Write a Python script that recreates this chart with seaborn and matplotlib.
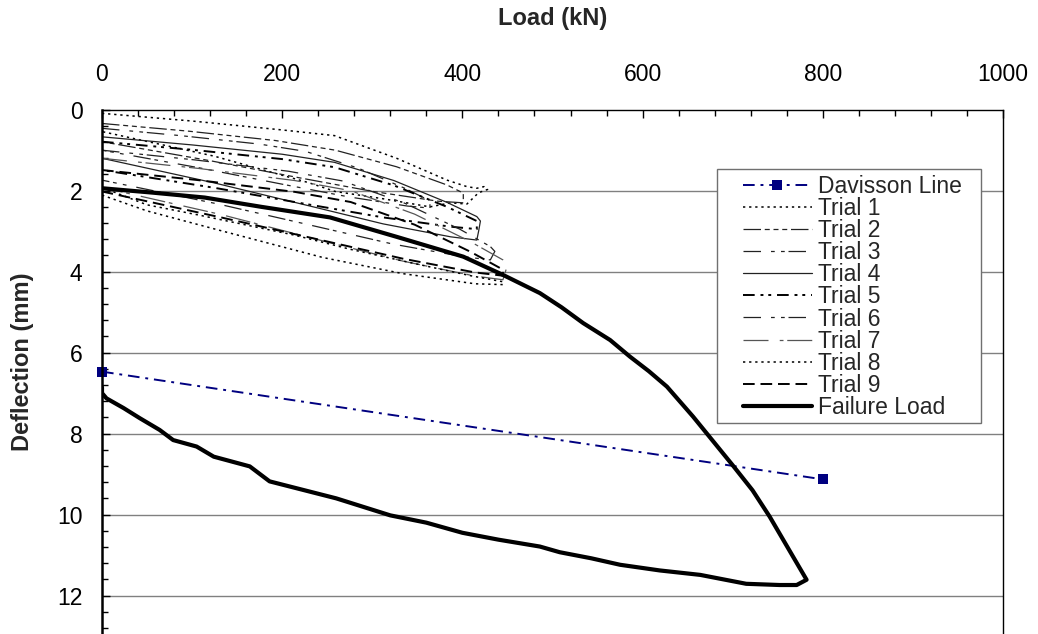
import numpy as np
import pandas as pd
import matplotlib
matplotlib.use("Agg")
import matplotlib.pyplot as plt
from matplotlib.ticker import MultipleLocator
from matplotlib.patches import Rectangle
import seaborn as sns

# ---------------- data (Load kN, Deflection mm) ----------------
davisson_load = [0, 800]
davisson_defl = [6.47, 9.13]

trial1_load = [0, 100, 200, 258, 327, 383, 405, 416, 424, 428, 418, 405, 387, 364, 312, 259, 229, 125, 0]
trial1_defl = [0.09, 0.28, 0.50, 0.64, 1.20, 1.74, 1.90, 1.94, 1.90, 1.97, 2.05, 2.33, 2.30, 2.40, 2.20, 2.02, 1.80, 1.15, 0.54]

trial2_load = [0, 96, 192, 259, 327, 383, 401, 401, 373, 301, 221, 120, 0]
trial2_defl = [0.34, 0.53, 0.76, 1.00, 1.41, 1.86, 2.06, 2.30, 2.26, 2.02, 1.69, 1.26, 0.79]

trial3_load = [0, 87, 175, 226, 284, 335, 364, 364, 339, 273, 200, 109, 0]
trial3_defl = [0.46, 0.64, 0.85, 1.03, 1.44, 1.93, 2.25, 2.43, 2.38, 2.15, 1.84, 1.44, 1.00]

trial4_load = [0, 100, 200, 258, 324, 383, 416, 420, 418, 416, 387, 312, 229, 125, 0]
trial4_defl = [0.67, 0.87, 1.10, 1.30, 1.75, 2.29, 2.64, 2.75, 3.00, 3.22, 3.14, 2.82, 2.37, 1.81, 1.20]

trial5_load = [0, 100, 200, 258, 324, 383, 416, 416, 387, 312, 229, 125, 0]
trial5_defl = [0.79, 0.99, 1.22, 1.42, 1.87, 2.40, 2.75, 2.95, 2.89, 2.66, 2.34, 1.93, 1.49]

trial6_load = [0, 103, 207, 267, 336, 397, 431, 436, 431, 401, 323, 237, 129, 0]
trial6_defl = [1.00, 1.24, 1.52, 1.76, 2.31, 2.95, 3.38, 3.50, 3.71, 3.63, 3.32, 2.88, 2.33, 1.74]

trial7_load = [0, 107, 214, 276, 347, 409, 445, 450, 447, 445, 414, 334, 245, 134, 0]
trial7_defl = [1.20, 1.45, 1.75, 2.00, 2.58, 3.26, 3.71, 3.85, 4.05, 4.20, 4.11, 3.74, 3.24, 2.60, 1.92]

trial8_load = [0, 50, 107, 214, 276, 347, 409, 445, 445, 414, 334, 245, 134, 50, 0]
trial8_defl = [1.92, 2.35, 2.60, 3.10, 3.45, 3.80, 4.10, 4.25, 4.32, 4.30, 4.05, 3.65, 3.00, 2.50, 2.11]

trial9_load = [0, 107, 214, 276, 347, 409, 445, 445, 414, 334, 245, 134, 0]
trial9_defl = [1.49, 1.74, 2.03, 2.28, 2.84, 3.51, 3.95, 4.10, 4.02, 3.68, 3.23, 2.67, 2.02]

failure_load = [0, 57, 114, 177, 253, 327, 401, 445, 486, 510, 534, 564, 586, 607, 627, 656, 671, 701, 722,
                741, 767, 782,
                771, 752, 715, 664, 619, 575, 543, 508, 486, 440, 400, 360, 320, 260, 223, 186, 164, 124,
                105, 79, 64, 42, 24, 5, 0, 0]
failure_defl = [1.94, 2.05, 2.17, 2.40, 2.66, 3.14, 3.63, 4.08, 4.53, 4.88, 5.27, 5.69, 6.10, 6.46, 6.84, 7.58,
                7.99, 8.81, 9.40, 10.05, 11.04, 11.61,
                11.74, 11.74, 11.71, 11.49, 11.38, 11.24, 11.08, 10.93, 10.79, 10.62,
                10.45, 10.20, 10.02, 9.60, 9.39, 9.18, 8.81, 8.57, 8.32, 8.16, 7.91, 7.62, 7.37, 7.13, 7.00, 6.86]

x_ticks = [0, 200, 400, 600, 800, 1000]
y_ticks = [0, 2, 4, 6, 8, 10, 12]

# ---------------- styling ----------------
sns.set_theme(style="white")
plt.rcParams["font.family"] = ["Liberation Sans", "DejaVu Sans"]

W, H = 1038, 634
fig = plt.figure(figsize=(W / 100, H / 100), dpi=100)
AX_L, AX_R, AX_T, AX_B = 102, 1003, 109.7, 634
ax = fig.add_axes([AX_L / W, 1 - AX_B / H, (AX_R - AX_L) / W, (AX_B - AX_T) / H])
aw, ah = AX_R - AX_L, AX_B - AX_T


def ax_x(px):
    return (px - AX_L) / aw


def ax_y(py):
    return (AX_B - py) / ah


series = [
    ("Davisson Line", davisson_load, davisson_defl, dict(color="#000080", lw=1.4, linestyle=(0, (6, 3, 1.5, 3)),
                                                         marker="s", markersize=7, markeredgewidth=0,
                                                         clip_on=False)),
    ("Trial 1", trial1_load, trial1_defl, dict(color="black", lw=1.1, linestyle=(0, (1.5, 2.5)))),
    ("Trial 2", trial2_load, trial2_defl, dict(color="#222222", lw=0.9, linestyle=(0, (14, 3, 4, 3, 4, 3, 4, 3)))),
    ("Trial 3", trial3_load, trial3_defl, dict(color="#222222", lw=0.9, linestyle=(0, (14, 8, 3, 5, 3, 3)))),
    ("Trial 4", trial4_load, trial4_defl, dict(color="#222222", lw=0.9, linestyle="-")),
    ("Trial 5", trial5_load, trial5_defl, dict(color="black", lw=1.4, linestyle=(0, (6, 3, 1.5, 2.5, 1.5, 3)))),
    ("Trial 6", trial6_load, trial6_defl, dict(color="#222222", lw=0.9, linestyle=(0, (14, 8, 3, 5, 3, 3)))),
    ("Trial 7", trial7_load, trial7_defl, dict(color="#555555", lw=0.9, linestyle=(0, (20, 9, 3, 3)))),
    ("Trial 8", trial8_load, trial8_defl, dict(color="black", lw=1.1, linestyle=(0, (1.5, 2.5)))),
    ("Trial 9", trial9_load, trial9_defl, dict(color="black", lw=1.4, linestyle=(0, (6, 3)))),
    ("Failure Load", failure_load, failure_defl, dict(color="black", lw=3.0, linestyle="-")),
]

for name, xs, ys, kw in series:
    df = pd.DataFrame({"Load": xs, "Deflection": ys})
    sns.lineplot(data=df, x="Load", y="Deflection", sort=False, estimator=None, ax=ax, label=name, **kw)

# axes
ax.set_xlim(0, 1000)
ax.set_ylim(12.95, 0)
ax.set_xticks(x_ticks)
ax.set_yticks(y_ticks)
ax.xaxis.set_minor_locator(MultipleLocator(40))
ax.yaxis.set_minor_locator(MultipleLocator(0.4))
ax.xaxis.tick_top()
ax.xaxis.set_label_position("top")
ax.tick_params(axis="x", which="both", direction="in", top=True, bottom=False, labelsize=16.5, pad=17, colors="black")
ax.tick_params(axis="y", which="both", direction="in", left=True, right=False, labelsize=16.5, pad=14, colors="black")
ax.tick_params(which="major", length=6, width=1)
ax.tick_params(which="minor", length=4, width=1)

ax.grid(False)
for yv in y_ticks[1:]:
    ax.axhline(yv, color="#808080", lw=1.0, zorder=0)

for s in ["top", "left", "right"]:
    ax.spines[s].set_color("black")
    ax.spines[s].set_linewidth(1.0)
ax.spines["left"].set_linewidth(1.8)
ax.spines["bottom"].set_visible(False)

ax.set_xlabel("Load (kN)", fontsize=17, fontweight="bold", va="center")
ax.set_ylabel("Deflection (mm)", fontsize=17, fontweight="bold", va="center", ha="center")
ax.xaxis.set_label_coords(0.5, ax_y(19))
ax.yaxis.set_label_coords(ax_x(23), ax_y(362))

# legend frame (drawn as a box) and legend content
frame = Rectangle((ax_x(717), ax_y(423)), ax_x(981) - ax_x(717), ax_y(169) - ax_y(423),
                  transform=ax.transAxes, facecolor="white", edgecolor="#707070", lw=1.0, zorder=5)
ax.add_patch(frame)
leg = ax.legend(loc="upper left", bbox_to_anchor=(ax_x(743), ax_y(175)),
                fontsize=16.5, frameon=False, handlelength=3.0, handletextpad=0.26,
                labelspacing=-0.04, borderpad=0.0, borderaxespad=0.0)
leg.set_zorder(6)

fig.savefig("out.png", dpi=100)
